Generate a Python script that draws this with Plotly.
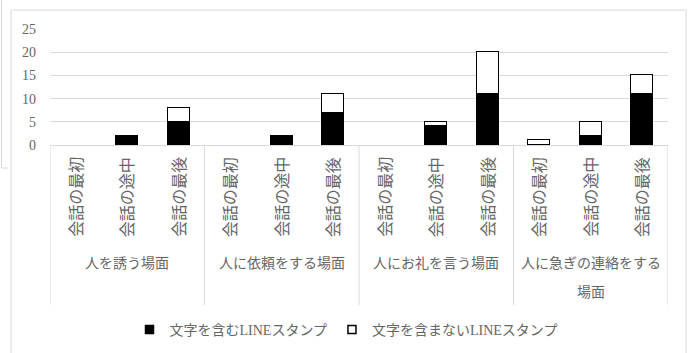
import plotly.graph_objects as go

# Scenes (outer category level) and moments in the conversation (inner level)
scenes = ["人を誘う場面", "人に依頼をする場面", "人にお礼を言う場面", "人に急ぎの連絡をする\n場面"]
moments = ["会話の最初", "会話の途中", "会話の最後"]

# Counts per scene × moment, in scene order
with_text = [0, 2, 5, 0, 2, 7, 0, 4, 11, 0, 2, 11]
without_text = [0, 0, 3, 0, 0, 4, 0, 1, 9, 1, 3, 4]

series_names = ["文字を含むLINEスタンプ", "文字を含まないLINEスタンプ"]
y_ticks = [0, 5, 10, 15, 20, 25]

W, H = 692, 353
ML, MR, MT, MB = 50, 24, 29, 208
PW, PH = W - ML - MR, H - MT - MB

FONT = "Liberation Serif, Noto Sans CJK JP"
TXT = "#666666"
GRID = "#d9d9d9"


def px_x(px):
    return (px - ML) / PW


def px_y(py):
    return (H - MB - py) / PH


def nonzero(vals):
    # empty segments are left out so no outline is drawn for them
    return [v if v else None for v in vals]


n_cat = len(scenes) * len(moments)
xs = list(range(n_cat))

fig = go.Figure()
fig.add_trace(go.Bar(
    x=xs, y=nonzero(with_text), name=series_names[0], width=0.43,
    marker=dict(color="black", line=dict(color="black", width=1.5)),
    showlegend=False,
))
fig.add_trace(go.Bar(
    x=xs, y=nonzero(without_text), name=series_names[1], width=0.43,
    marker=dict(color="white", line=dict(color="black", width=1.5)),
    showlegend=False,
))

# Legend entries with small square swatches
for name, col in zip(series_names, ["black", "white"]):
    fig.add_trace(go.Scatter(
        x=[None], y=[None], mode="markers", name=name,
        marker=dict(symbol="square", size=8, color=col,
                    line=dict(color="black", width=1.5)),
    ))

annotations = []
# Inner labels, rotated
for i in xs:
    annotations.append(dict(
        x=i, y=px_y(155), xref="x", yref="paper", text=moments[i % len(moments)],
        textangle=-90, showarrow=False, xanchor="center", yanchor="top",
        font=dict(family=FONT, size=16, color=TXT),
    ))
# Outer labels, one annotation per line
for g, label in enumerate(scenes):
    cx = g * len(moments) + (len(moments) - 1) / 2
    for k, line in enumerate(label.split("\n")):
        annotations.append(dict(
            x=cx, y=px_y(263 + 29 * k), xref="x", yref="paper", text=line,
            showarrow=False, xanchor="center", yanchor="middle",
            font=dict(family=FONT, size=14, color=TXT),
        ))

shapes = []
# Group dividers below the axis
for g in range(len(scenes) + 1):
    xb = g * len(moments) - 0.5
    shapes.append(dict(type="line", xref="x", yref="paper",
                       x0=xb, x1=xb, y0=0, y1=px_y(305),
                       line=dict(color=GRID, width=1)))
# Chart frame
shapes.append(dict(type="rect", xref="paper", yref="paper",
                   x0=px_x(11), x1=px_x(686), y0=px_y(10), y1=px_y(362),
                   line=dict(color=GRID, width=1)))
# Neighbouring page edge on the far left
shapes.append(dict(type="path", xref="paper", yref="paper",
                   path=f"M {px_x(1.5)} {px_y(0)} L {px_x(1.5)} {px_y(168)} L {px_x(8)} {px_y(168)}",
                   line=dict(color=GRID, width=1)))

fig.update_layout(
    width=W, height=H,
    margin=dict(l=ML, r=MR, t=MT, b=MB, pad=0),
    paper_bgcolor="white", plot_bgcolor="white",
    barmode="stack", bargap=0,
    font=dict(family=FONT, size=14, color=TXT),
    xaxis=dict(range=[-0.5, n_cat - 0.5], showticklabels=False, showgrid=False,
               showline=True, linecolor=GRID, linewidth=1, zeroline=False,
               fixedrange=True),
    yaxis=dict(range=[0, 25], tickvals=y_ticks, showgrid=True, gridcolor=GRID,
               gridwidth=1, zeroline=False, showline=False, ticks="",
               ticklabelstandoff=13, tickfont=dict(family=FONT, size=14, color=TXT),
               fixedrange=True),
    legend=dict(orientation="h", x=0.5, xanchor="center", xref="container",
                y=1 - 330 / H, yanchor="middle", yref="container",
                traceorder="normal",
                font=dict(family=FONT, size=14, color=TXT),
                itemwidth=30, tracegroupgap=0, bgcolor="rgba(0,0,0,0)"),
    annotations=annotations, shapes=shapes,
    showlegend=True,
)

fig.write_html("out.html")
